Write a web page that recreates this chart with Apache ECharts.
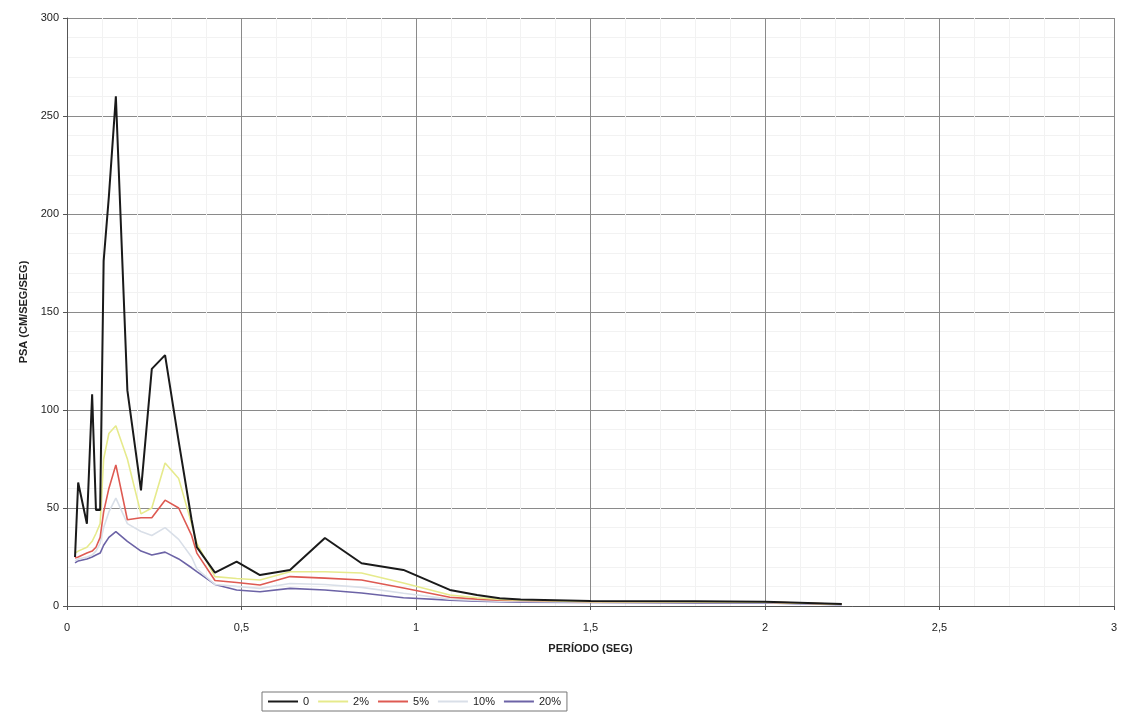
<!DOCTYPE html>
<html>
<head>
<meta charset="utf-8">
<script src="https://cdn.jsdelivr.net/npm/echarts@6/dist/echarts.min.js"></script>
<style>
html,body{margin:0;padding:0;background:#fff;}
#chart{width:1121px;height:715px;}
</style>
</head>
<body>
<div id="chart"></div>
<script>
// Periods (s)
const periods = [0.023, 0.032, 0.057, 0.072, 0.083, 0.095, 0.105, 0.12, 0.14, 0.173, 0.212, 0.243, 0.281, 0.32, 0.357, 0.372, 0.424, 0.486, 0.553, 0.639, 0.739, 0.844, 0.964, 1.097, 1.175, 1.24, 1.3, 1.5, 1.8, 2.0, 2.22];
// PSA values (cm/s/s) per damping
const psa0   = [25, 63, 42, 108, 49, 49, 176, 209, 260, 110, 59, 121, 128, 84, 44, 30, 17, 22.6, 15.8, 18.4, 34.7, 21.8, 18.4, 8.2, 5.6, 4, 3.3, 2.5, 2.4, 2.2, 1];
const psa2   = [27, 28, 30, 33, 37, 42, 75, 88, 92, 75, 47, 50, 73, 65, 42, 32, 15, 14, 13.3, 17.5, 17.5, 16.8, 11.7, 5.6, 4.2, 3.4, 3, 2.2, 2.1, 2, 0.9];
const psa5   = [24.5, 25, 27, 28, 30, 35, 48, 60, 72, 44, 45, 45, 54, 50, 36, 27, 13, 12, 10.7, 15, 14.2, 13.3, 9.2, 4.5, 3.5, 3, 2.8, 2.2, 2.2, 2, 0.9];
const psa10  = [23, 24, 25, 26, 28, 32, 40, 48, 55, 42, 38, 36, 40, 34, 25, 19, 11, 10, 9, 11.5, 11, 9.5, 6.5, 3.5, 2.8, 2.5, 2.3, 2, 1.9, 1.8, 0.8];
const psa20  = [22, 23, 24, 25, 26, 27, 31, 35, 38, 33, 28, 26, 27.5, 24, 19.5, 17.5, 11, 8.2, 7.3, 9, 8.2, 6.6, 4.2, 3, 2.5, 2.2, 2, 1.8, 1.6, 1.5, 0.7];
const seriesNames = ['0', '2%', '5%', '10%', '20%'];
const xTickLabels = {0: '0', 0.5: '0,5', 1: '1', 1.5: '1,5', 2: '2', 2.5: '2,5', 3: '3'};
const yTickLabels = ['0', '50', '100', '150', '200', '250', '300'];

const allValues = [psa0, psa2, psa5, psa10, psa20];
const colors = ['#1a1a1a', '#e6ea8c', '#de5a52', '#d9dfe8', '#6c63a6'];
const widths = [2, 1.6, 1.6, 1.6, 1.6];

const series = seriesNames.map((name, i) => ({
  name: name,
  type: 'line',
  symbol: 'none',
  showSymbol: false,
  z: 10 - i,
  lineStyle: {color: colors[i], width: widths[i]},
  itemStyle: {color: colors[i]},
  data: periods.map((p, k) => [p, allValues[i][k]])
}));

const chart = echarts.init(document.getElementById('chart'), null, {renderer: 'canvas'});
const labelFont = {color: '#222', fontSize: 11, fontFamily: 'Liberation Sans, Arial, sans-serif'};
chart.setOption({
  animation: false,
  backgroundColor: '#fff',
  grid: {left: 67, right: 7, top: 18, bottom: 109, containLabel: false},
  xAxis: {
    type: 'value', min: 0, max: 3, interval: 0.5,
    name: 'PERÍODO (SEG)', nameLocation: 'middle', nameGap: 37,
    nameTextStyle: Object.assign({}, labelFont, {fontWeight: 'bold', fontSize: 11}),
    axisLine: {show: true, lineStyle: {color: '#555', width: 1}},
    axisTick: {show: true, length: 4, lineStyle: {color: '#555'}},
    axisLabel: Object.assign({}, labelFont, {margin: 16, formatter: v => xTickLabels[v] !== undefined ? xTickLabels[v] : ''}),
    splitLine: {show: true, lineStyle: {color: '#8a8a8a', width: 1}},
    minorTick: {show: false, splitNumber: 5},
    minorSplitLine: {show: true, lineStyle: {color: '#f2f2f2', width: 1}}
  },
  yAxis: {
    type: 'value', min: 0, max: 300, interval: 50,
    name: 'PSA (CM/SEG/SEG)', nameLocation: 'middle', nameGap: 33, nameRotate: 90,
    nameTextStyle: Object.assign({}, labelFont, {fontWeight: 'bold', fontSize: 11}),
    axisLine: {show: true, lineStyle: {color: '#555', width: 1}},
    axisTick: {show: true, length: 4, lineStyle: {color: '#555'}},
    axisLabel: Object.assign({}, labelFont, {margin: 8, formatter: (v) => yTickLabels[Math.round(v / 50)]}),
    splitLine: {show: true, lineStyle: {color: '#8a8a8a', width: 1}},
    minorTick: {show: false, splitNumber: 5},
    minorSplitLine: {show: true, lineStyle: {color: '#f2f2f2', width: 1}}
  },
  legend: {
    data: seriesNames,
    left: 262, top: 692,
    orient: 'horizontal',
    icon: 'path://M0,0 L30,0 L30,2 L0,2 Z',
    itemWidth: 30, itemHeight: 2, itemGap: 9,
    padding: [4, 6, 4, 6],
    borderColor: '#777', borderWidth: 1,
    textStyle: Object.assign({}, labelFont, {fontSize: 11})
  },
  series: series
});
</script>
</body>
</html>
